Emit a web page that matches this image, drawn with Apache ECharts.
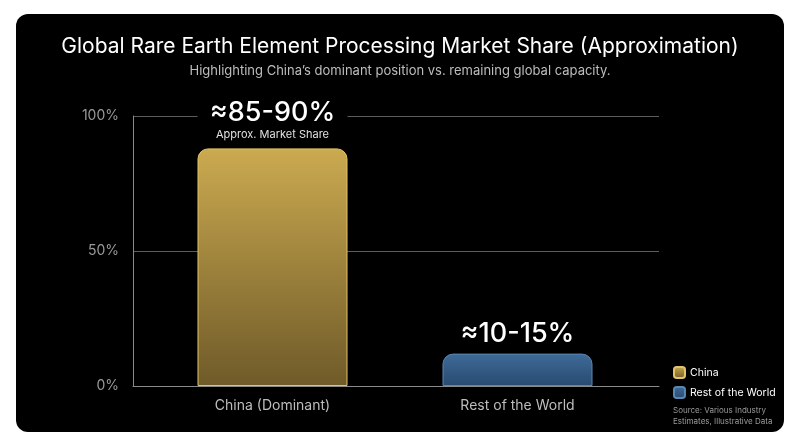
<!DOCTYPE html>
<html>
<head>
<meta charset="utf-8">
<script src="https://cdn.jsdelivr.net/npm/echarts@6/dist/echarts.min.js"></script>
<style>
  html, body { margin: 0; padding: 0; background: #fff; }
  #chart { width: 800px; height: 447px; }
</style>
</head>
<body>
<div id="chart"></div>
<script>
// chart data
const categories = ['China (Dominant)', 'Rest of the World']
const chinaValues = [88, '-']
const restValues = ['-', 12]
const valueLabels = ['≈85-90%', '≈10-15%']
const yTicks = [0, 50, 100]

const font = 'Inter, "Noto Sans", sans-serif'

const gold = new echarts.graphic.LinearGradient(0, 0, 0, 1, [
  { offset: 0, color: '#cbaa50' },
  { offset: 1, color: '#6f5a29' }
])
const blue = new echarts.graphic.LinearGradient(0, 0, 0, 1, [
  { offset: 0, color: '#3f6b98' },
  { offset: 1, color: '#284a70' }
])

const chart = echarts.init(document.getElementById('chart'))

chart.setOption({
  backgroundColor: '#fff',
  animation: false,
  textStyle: { fontFamily: font },
  graphic: [
    {
      type: 'rect',
      z: -10,
      shape: { x: 16, y: 14, width: 768, height: 418, r: 12 },
      style: { fill: '#000' }
    },
    {
      type: 'text',
      left: 673,
      top: 405,
      style: {
        text: 'Source: Various Industry\nEstimates, Illustrative Data',
        fill: '#9a9a9a',
        font: '8px ' + font,
        lineHeight: 11
      }
    }
  ],
  title: {
    text: 'Global Rare Earth Element Processing Market Share (Approximation)',
    subtext: 'Highlighting China\u2019s dominant position vs. remaining global capacity.',
    left: 'center',
    top: 31,
    itemGap: 8,
    textStyle: { color: '#fff', fontSize: 21, fontWeight: 'normal', fontFamily: font },
    subtextStyle: { color: '#bdbdbd', fontSize: 13, fontFamily: font }
  },
  legend: {
    orient: 'vertical',
    left: 673,
    top: 366,
    padding: 0,
    itemWidth: 11,
    itemHeight: 11,
    itemGap: 7,
    icon: 'roundRect',
    textStyle: { color: '#fff', fontSize: 10.5, fontFamily: font },
    data: ['China', 'Rest of the World']
  },
  grid: [
    { left: 133, top: 116, width: 526, height: 270 },
    { left: 150, top: 116, width: 490, height: 270 }
  ],
  xAxis: [
    {
      type: 'value',
      gridIndex: 0,
      min: 0,
      max: 1,
      axisLine: { show: true, onZero: false, lineStyle: { color: '#8a8a8a' } },
      axisTick: { show: false },
      axisLabel: { show: false },
      splitLine: { show: false }
    },
    {
      type: 'category',
      gridIndex: 1,
      data: categories,
      axisLine: { show: false },
      axisTick: { show: false },
      axisLabel: { color: '#bdbdbd', fontSize: 14, margin: 13, fontFamily: font }
    }
  ],
  yAxis: [
    {
      type: 'value',
      gridIndex: 0,
      min: yTicks[0],
      max: yTicks[yTicks.length - 1],
      interval: 50,
      axisLine: { show: true, lineStyle: { color: '#8a8a8a' } },
      axisTick: { show: false },
      axisLabel: { color: '#9a9a9a', fontSize: 14, margin: 14, formatter: '{value}%', fontFamily: font },
      splitLine: { lineStyle: { color: '#5c5c5c' } }
    },
    {
      type: 'value',
      gridIndex: 1,
      min: 0,
      max: 100,
      show: false,
      splitLine: { show: false }
    }
  ],
  series: [
    {
      name: 'China',
      type: 'bar',
      xAxisIndex: 1,
      yAxisIndex: 1,
      barWidth: 150,
      barGap: '-100%',
      data: chinaValues,
      itemStyle: { color: gold, borderColor: '#e2c368', borderWidth: 1, borderRadius: [10, 10, 0, 0] },
      label: {
        show: true,
        position: 'top',
        distance: 7,
        formatter: '{big|' + valueLabels[0] + '}\n{small|Approx. Market Share}',
        rich: {
          big: { fontSize: 27, fontWeight: 500, lineHeight: 30, color: '#fff', width: 150, align: 'center', backgroundColor: '#000', fontFamily: font },
          small: { fontSize: 11, lineHeight: 14, color: '#e0e0e0', align: 'center', fontFamily: font }
        }
      }
    },
    {
      name: 'Rest of the World',
      type: 'bar',
      xAxisIndex: 1,
      yAxisIndex: 1,
      barWidth: 150,
      barGap: '-100%',
      data: restValues,
      itemStyle: { color: blue, borderColor: '#5a86b2', borderWidth: 1, borderRadius: [10, 10, 0, 0] },
      label: {
        show: true,
        position: 'top',
        distance: 5,
        formatter: valueLabels[1],
        color: '#fff',
        fontSize: 27,
        fontWeight: 500,
        lineHeight: 30,
        fontFamily: font
      }
    }
  ]
})
</script>
</body>
</html>
